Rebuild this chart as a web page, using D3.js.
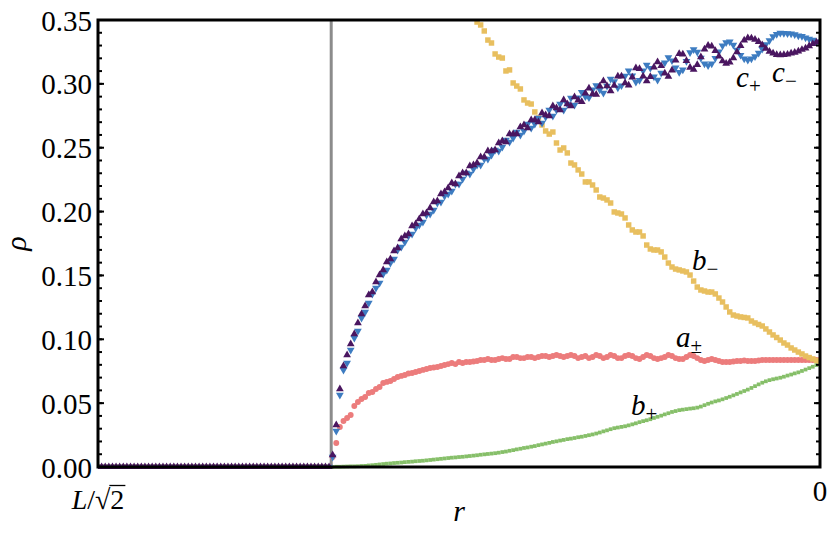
<!DOCTYPE html>
<html>
<head>
<meta charset="utf-8">
<script src="https://cdn.jsdelivr.net/npm/d3@7"></script>
<style>
  body { margin: 0; background: #fff; }
  svg { display: block; }
  text { font-family: "Liberation Serif", "Times New Roman", "DejaVu Serif", serif; }
</style>
</head>
<body>
<div id="canvas"></div>
<script>
// r is measured in units of L/sqrt(2): 1 at the left edge, 0 at the right edge
var rCut = 0.677;

// outside the cut every density is zero
var rEmpty = [
    1.000, 0.995, 0.990, 0.985, 0.980, 0.975, 0.970, 0.965, 0.960, 0.955,
    0.950, 0.945, 0.940, 0.935, 0.930, 0.925, 0.920, 0.915, 0.910, 0.905,
    0.900, 0.895, 0.890, 0.885, 0.880, 0.875, 0.870, 0.865, 0.860, 0.855,
    0.850, 0.845, 0.840, 0.835, 0.830, 0.825, 0.820, 0.815, 0.810, 0.805,
    0.800, 0.795, 0.790, 0.785, 0.780, 0.775, 0.770, 0.765, 0.760, 0.755,
    0.750, 0.745, 0.740, 0.735, 0.730, 0.725, 0.720, 0.715, 0.710, 0.705,
    0.700, 0.695, 0.690, 0.685
];

var rGrid = [
    0.680, 0.675, 0.670, 0.665, 0.660, 0.655, 0.650, 0.645, 0.640, 0.635,
    0.630, 0.625, 0.620, 0.615, 0.610, 0.605, 0.600, 0.595, 0.590, 0.585,
    0.580, 0.575, 0.570, 0.565, 0.560, 0.555, 0.550, 0.545, 0.540, 0.535,
    0.530, 0.525, 0.520, 0.515, 0.510, 0.505, 0.500, 0.495, 0.490, 0.485,
    0.480, 0.475, 0.470, 0.465, 0.460, 0.455, 0.450, 0.445, 0.440, 0.435,
    0.430, 0.425, 0.420, 0.415, 0.410, 0.405, 0.400, 0.395, 0.390, 0.385,
    0.380, 0.375, 0.370, 0.365, 0.360, 0.355, 0.350, 0.345, 0.340, 0.335,
    0.330, 0.325, 0.320, 0.315, 0.310, 0.305, 0.300, 0.295, 0.290, 0.285,
    0.280, 0.275, 0.270, 0.265, 0.260, 0.255, 0.250, 0.245, 0.240, 0.235,
    0.230, 0.225, 0.220, 0.215, 0.210, 0.205, 0.200, 0.195, 0.190, 0.185,
    0.180, 0.175, 0.170, 0.165, 0.160, 0.155, 0.150, 0.145, 0.140, 0.135,
    0.130, 0.125, 0.120, 0.115, 0.110, 0.105, 0.100, 0.095, 0.090, 0.085,
    0.080, 0.075, 0.070, 0.065, 0.060, 0.055, 0.050, 0.045, 0.040, 0.035,
    0.030, 0.025, 0.020, 0.015, 0.010, 0.005, 0.000
];

var aPM = [
    0.0000, 0.0078, 0.0188, 0.0313, 0.0360, 0.0384, 0.0407, 0.0478, 0.0509, 0.0532,
    0.0548, 0.0579, 0.0587, 0.0611, 0.0626, 0.0658, 0.0666, 0.0673, 0.0689, 0.0705,
    0.0713, 0.0720, 0.0732, 0.0736, 0.0744, 0.0752, 0.0760, 0.0767, 0.0775, 0.0779,
    0.0783, 0.0791, 0.0799, 0.0806, 0.0814, 0.0806, 0.0822, 0.0814, 0.0822, 0.0822,
    0.0826, 0.0830, 0.0838, 0.0838, 0.0846, 0.0838, 0.0838, 0.0846, 0.0853, 0.0846,
    0.0846, 0.0861, 0.0861, 0.0853, 0.0853, 0.0861, 0.0861, 0.0853, 0.0861, 0.0869,
    0.0869, 0.0861, 0.0869, 0.0877, 0.0869, 0.0861, 0.0869, 0.0877, 0.0869, 0.0853,
    0.0861, 0.0869, 0.0853, 0.0861, 0.0877, 0.0869, 0.0853, 0.0861, 0.0877, 0.0869,
    0.0853, 0.0853, 0.0869, 0.0877, 0.0869, 0.0853, 0.0846, 0.0861, 0.0877, 0.0869,
    0.0853, 0.0846, 0.0853, 0.0861, 0.0877, 0.0869, 0.0853, 0.0846, 0.0846, 0.0861,
    0.0877, 0.0869, 0.0853, 0.0838, 0.0830, 0.0838, 0.0846, 0.0838, 0.0830, 0.0822,
    0.0822, 0.0822, 0.0826, 0.0830, 0.0830, 0.0834, 0.0830, 0.0830, 0.0830, 0.0834,
    0.0838, 0.0838, 0.0838, 0.0838, 0.0838, 0.0838, 0.0838, 0.0838, 0.0838, 0.0838,
    0.0838, 0.0838, 0.0838, 0.0838, 0.0838, 0.0838, 0.0838
];

var bPlus = [
    0.0000, 0.0000, 0.0002, 0.0002, 0.0003, 0.0004, 0.0005, 0.0005, 0.0006, 0.0008,
    0.0009, 0.0012, 0.0014, 0.0017, 0.0020, 0.0023, 0.0026, 0.0028, 0.0031, 0.0033,
    0.0035, 0.0038, 0.0040, 0.0042, 0.0045, 0.0047, 0.0049, 0.0052, 0.0055, 0.0058,
    0.0061, 0.0064, 0.0067, 0.0070, 0.0073, 0.0075, 0.0078, 0.0080, 0.0083, 0.0086,
    0.0089, 0.0092, 0.0096, 0.0099, 0.0102, 0.0105, 0.0108, 0.0112, 0.0117, 0.0121,
    0.0127, 0.0132, 0.0138, 0.0143, 0.0149, 0.0153, 0.0159, 0.0164, 0.0171, 0.0177,
    0.0183, 0.0189, 0.0196, 0.0201, 0.0207, 0.0212, 0.0218, 0.0222, 0.0227, 0.0233,
    0.0237, 0.0243, 0.0249, 0.0255, 0.0262, 0.0270, 0.0279, 0.0287, 0.0296, 0.0304,
    0.0309, 0.0314, 0.0319, 0.0326, 0.0334, 0.0342, 0.0351, 0.0359, 0.0366, 0.0374,
    0.0384, 0.0393, 0.0402, 0.0412, 0.0421, 0.0431, 0.0438, 0.0445, 0.0449, 0.0453,
    0.0457, 0.0460, 0.0465, 0.0473, 0.0484, 0.0495, 0.0505, 0.0514, 0.0521, 0.0530,
    0.0540, 0.0550, 0.0561, 0.0572, 0.0584, 0.0595, 0.0606, 0.0619, 0.0633, 0.0647,
    0.0660, 0.0671, 0.0680, 0.0687, 0.0693, 0.0699, 0.0707, 0.0716, 0.0724, 0.0733,
    0.0741, 0.0752, 0.0763, 0.0774, 0.0785, 0.0798, 0.0810
];

// null: above the top of the frame, not shown
var bMinus = [
    null, null, null, null, null, null, null, null, null, null,
    null, null, null, null, null, null, null, null, null, null,
    null, null, null, null, null, null, null, null, null, null,
    null, null, null, null, null, null, null, null, null, null,
    null, 0.3484, 0.3461, 0.3414, 0.3343, 0.3320, 0.3234, 0.3210, 0.3202, 0.3101,
    0.3109, 0.3007, 0.2983, 0.2960, 0.2874, 0.2850, 0.2842, 0.2780, 0.2733, 0.2678,
    0.2631, 0.2607, 0.2623, 0.2537, 0.2482, 0.2498, 0.2459, 0.2380, 0.2365, 0.2326,
    0.2294, 0.2232, 0.2232, 0.2208, 0.2169, 0.2114, 0.2106, 0.2091, 0.2067, 0.1997,
    0.1989, 0.1981, 0.1950, 0.1895, 0.1856, 0.1840, 0.1840, 0.1809, 0.1738, 0.1707,
    0.1699, 0.1699, 0.1684, 0.1644, 0.1597, 0.1566, 0.1550, 0.1543, 0.1535, 0.1527,
    0.1503, 0.1456, 0.1409, 0.1386, 0.1378, 0.1370, 0.1370, 0.1355, 0.1323, 0.1292,
    0.1253, 0.1214, 0.1190, 0.1182, 0.1175, 0.1171, 0.1167, 0.1143, 0.1128, 0.1116,
    0.1104, 0.1081, 0.1057, 0.1034, 0.1014, 0.0994, 0.0971, 0.0955, 0.0932, 0.0916,
    0.0900, 0.0885, 0.0869, 0.0857, 0.0846, 0.0834, 0.0822
];

var cPlus = [
    0.0000, 0.0078, 0.0282, 0.0564, 0.0760, 0.0814, 0.0916, 0.1010, 0.1065, 0.1167,
    0.1214, 0.1284, 0.1355, 0.1402, 0.1441, 0.1511, 0.1543, 0.1597, 0.1629, 0.1699,
    0.1723, 0.1762, 0.1809, 0.1824, 0.1871, 0.1895, 0.1918, 0.1973, 0.1981, 0.2012,
    0.2067, 0.2075, 0.2122, 0.2138, 0.2161, 0.2216, 0.2216, 0.2255, 0.2302, 0.2294,
    0.2333, 0.2365, 0.2365, 0.2412, 0.2412, 0.2443, 0.2482, 0.2474, 0.2506, 0.2560,
    0.2545, 0.2576, 0.2623, 0.2600, 0.2631, 0.2686, 0.2654, 0.2686, 0.2733, 0.2694,
    0.2741, 0.2795, 0.2748, 0.2795, 0.2842, 0.2795, 0.2842, 0.2889, 0.2835, 0.2892,
    0.2935, 0.2900, 0.2892, 0.2953, 0.2987, 0.2954, 0.2928, 0.2983, 0.3038, 0.3019,
    0.2969, 0.2986, 0.3062, 0.3103, 0.3063, 0.3015, 0.3029, 0.3102, 0.3148, 0.3123,
    0.3056, 0.3030, 0.3085, 0.3166, 0.3207, 0.3182, 0.3126, 0.3091, 0.3111, 0.3177,
    0.3246, 0.3269, 0.3249, 0.3202, 0.3157, 0.3144, 0.3158, 0.3200, 0.3252, 0.3298,
    0.3323, 0.3329, 0.3304, 0.3265, 0.3225, 0.3196, 0.3187, 0.3196, 0.3214, 0.3241,
    0.3273, 0.3309, 0.3340, 0.3370, 0.3389, 0.3398, 0.3397, 0.3394, 0.3393, 0.3386,
    0.3377, 0.3372, 0.3361, 0.3352, 0.3343, 0.3330, 0.3324
];

var cMinus = [
    0.0000, 0.0094, 0.0329, 0.0611, 0.0791, 0.0877, 0.0963, 0.1041, 0.1128, 0.1198,
    0.1261, 0.1347, 0.1370, 0.1449, 0.1503, 0.1543, 0.1605, 0.1629, 0.1691, 0.1715,
    0.1785, 0.1809, 0.1824, 0.1887, 0.1903, 0.1942, 0.1981, 0.1989, 0.2028, 0.2075,
    0.2083, 0.2138, 0.2153, 0.2185, 0.2224, 0.2216, 0.2279, 0.2302, 0.2302, 0.2357,
    0.2365, 0.2380, 0.2427, 0.2427, 0.2474, 0.2474, 0.2482, 0.2537, 0.2553, 0.2545,
    0.2607, 0.2607, 0.2607, 0.2662, 0.2678, 0.2654, 0.2717, 0.2717, 0.2701, 0.2772,
    0.2756, 0.2748, 0.2827, 0.2811, 0.2795, 0.2874, 0.2842, 0.2827, 0.2897, 0.2871,
    0.2860, 0.2926, 0.2965, 0.2920, 0.2917, 0.2981, 0.3022, 0.2983, 0.2944, 0.2987,
    0.3060, 0.3059, 0.3007, 0.2989, 0.3052, 0.3124, 0.3118, 0.3060, 0.3022, 0.3055,
    0.3130, 0.3171, 0.3141, 0.3083, 0.3058, 0.3106, 0.3185, 0.3236, 0.3232, 0.3181,
    0.3128, 0.3113, 0.3149, 0.3211, 0.3271, 0.3300, 0.3294, 0.3260, 0.3216, 0.3178,
    0.3160, 0.3170, 0.3203, 0.3250, 0.3298, 0.3342, 0.3359, 0.3358, 0.3347, 0.3329,
    0.3305, 0.3276, 0.3253, 0.3239, 0.3228, 0.3226, 0.3228, 0.3231, 0.3239, 0.3246,
    0.3255, 0.3268, 0.3279, 0.3296, 0.3313, 0.3326, 0.3332
];

var yMajorTicks = [0, 0.05, 0.10, 0.15, 0.20, 0.25, 0.30, 0.35];
var xTickLabels = ["L/√2", "0"];

var FONT = "'Liberation Serif', 'Times New Roman', 'DejaVu Serif', serif";

function init() {
    var W = 830, H = 536;
    var left = 98, right = 820, top = 20, bottom = 467;

    var svg = d3.select("#canvas").append("svg")
        .attr("width", W)
        .attr("height", H)
        .attr("font-family", FONT);

    var x = d3.scaleLinear().domain([1, 0]).range([left, right]);
    var y = d3.scaleLinear().domain([0, 0.35]).range([bottom, top]);

    svg.append("clipPath").attr("id", "plotclip")
        .append("rect")
        .attr("x", left).attr("y", top - 1)
        .attr("width", right - left).attr("height", bottom - top + 3);

    // cut line
    svg.append("line")
        .attr("x1", x(rCut)).attr("x2", x(rCut))
        .attr("y1", top).attr("y2", bottom)
        .attr("stroke", "#8c8c8c")
        .attr("stroke-width", 3);

    var series = [
        {name: "a", values: aPM, color: "#ec7c7c", symbol: d3.symbolCircle, size: 27, rot: 0},
        {name: "b+", values: bPlus, color: "#86bf69", symbol: d3.symbolSquare, size: 14, rot: 0},
        {name: "b-", values: bMinus, color: "#e8bf5f", symbol: d3.symbolSquare, size: 30, rot: 0},
        {name: "c+", values: cPlus, color: "#3d7cc1", symbol: d3.symbolTriangle, size: 26, rot: 180},
        {name: "c-", values: cMinus, color: "#4a1660", symbol: d3.symbolTriangle, size: 26, rot: 0}
    ];

    var plot = svg.append("g").attr("clip-path", "url(#plotclip)");
    series.forEach(function (s) {
        var pts = rEmpty.map(function (r) { return {r: r, v: 0}; })
            .concat(rGrid.map(function (r, i) { return {r: r, v: s.values[i]}; }))
            .filter(function (d) { return d.v !== null && d.v !== undefined; });
        var sym = d3.symbol().type(s.symbol).size(s.size);
        plot.append("g")
            .selectAll("path")
            .data(pts)
            .enter().append("path")
            .attr("d", sym)
            .attr("transform", function (d) {
                return "translate(" + x(d.r) + "," + y(d.v) + ") rotate(" + s.rot + ")";
            })
            .attr("fill", s.color);
    });

    // frame
    svg.append("rect")
        .attr("x", left).attr("y", top)
        .attr("width", right - left).attr("height", bottom - top)
        .attr("fill", "none")
        .attr("stroke", "#000")
        .attr("stroke-width", 3);

    // ticks, inward on left and right
    var minor = y.ticks(35);
    [[left, 1], [right, -1]].forEach(function (side) {
        var g = svg.append("g");
        g.selectAll("line.minor").data(minor).enter().append("line")
            .attr("x1", side[0]).attr("x2", side[0] + side[1] * 4)
            .attr("y1", function (d) { return y(d); })
            .attr("y2", function (d) { return y(d); })
            .attr("stroke", "#000").attr("stroke-width", 2);
        g.selectAll("line.major").data(yMajorTicks).enter().append("line")
            .attr("x1", side[0]).attr("x2", side[0] + side[1] * 6)
            .attr("y1", function (d) { return y(d); })
            .attr("y2", function (d) { return y(d); })
            .attr("stroke", "#000").attr("stroke-width", 2);
    });

    svg.append("g").selectAll("text").data(yMajorTicks).enter().append("text")
        .attr("x", left - 6)
        .attr("y", function (d) { return y(d) + 10.5; })
        .attr("text-anchor", "end")
        .attr("font-family", FONT)
        .attr("font-size", 29)
        .text(d3.format(".2f"));

    // x tick labels
    var lt = svg.append("text")
        .attr("x", x(1)).attr("y", 509)
        .attr("text-anchor", "middle")
        .attr("font-family", FONT)
        .attr("font-size", 28);
    lt.append("tspan").attr("font-style", "italic").text(xTickLabels[0].charAt(0));
    lt.append("tspan").text(xTickLabels[0].slice(1));
    var n = lt.node();
    var s2 = n.getStartPositionOfChar(3), e2 = n.getEndPositionOfChar(3);
    svg.append("line")
        .attr("x1", s2.x - 1).attr("x2", e2.x + 1)
        .attr("y1", 485.5).attr("y2", 485.5)
        .attr("stroke", "#000").attr("stroke-width", 1.3);

    svg.append("text")
        .attr("x", x(0)).attr("y", 501)
        .attr("text-anchor", "middle")
        .attr("font-family", FONT)
        .attr("font-size", 29)
        .text(xTickLabels[1]);

    // axis titles
    svg.append("text")
        .attr("x", (left + right) / 2).attr("y", 521)
        .attr("text-anchor", "middle")
        .attr("font-family", FONT)
        .attr("font-size", 30)
        .attr("font-style", "italic")
        .text("r");
    svg.append("text")
        .attr("transform", "translate(26," + ((top + bottom) / 2) + ") rotate(-90)")
        .attr("text-anchor", "middle")
        .attr("font-family", FONT)
        .attr("font-size", 30)
        .attr("font-style", "italic")
        .text("ρ");

    // curve labels
    curveLabel(svg, 736, 87, "c", "+");
    curveLabel(svg, 772, 82, "c", "−");
    curveLabel(svg, 692, 270, "b", "−");
    curveLabel(svg, 676, 347, "a", "±");
    curveLabel(svg, 631, 415, "b", "+");
}

function curveLabel(svg, px, py, main, sub) {
    var t = svg.append("text")
        .attr("x", px).attr("y", py)
        .attr("font-family", FONT)
        .attr("font-size", 29);
    t.append("tspan").attr("font-style", "italic").text(main);
    t.append("tspan").attr("font-size", 21).attr("dy", 6).text(sub);
}

window.onload = init;
</script>
</body>
</html>
